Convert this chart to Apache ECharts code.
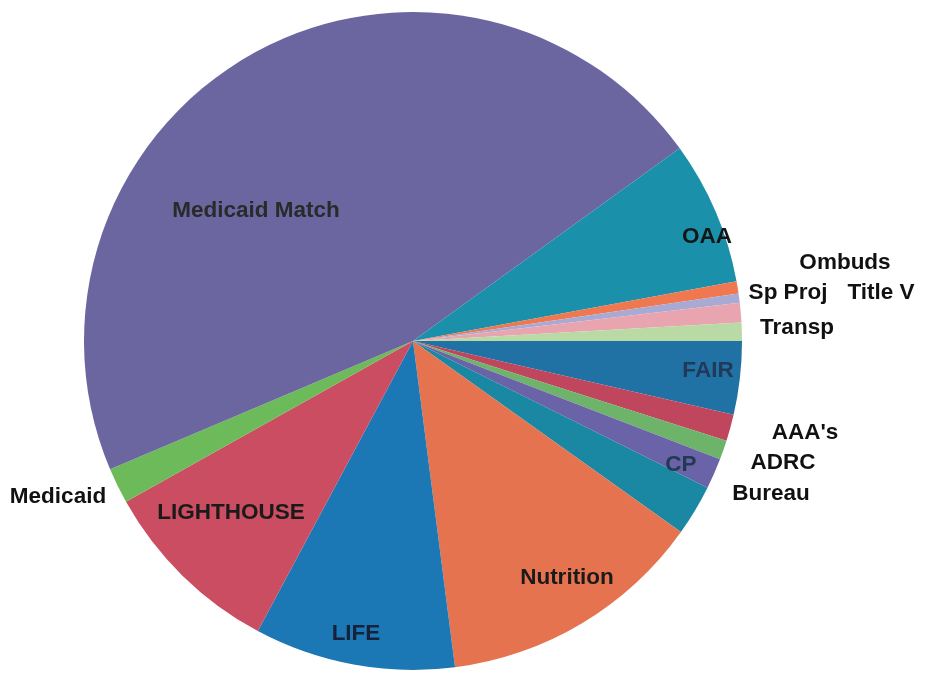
<!DOCTYPE html>
<html>
<head>
<meta charset="utf-8">
<script src="https://cdn.jsdelivr.net/npm/echarts@6/dist/echarts.min.js"></script>
<style>
  html, body { margin: 0; padding: 0; background: #fff; }
  #chart { width: 931px; height: 673px; }
</style>
</head>
<body>
<div id="chart"></div>
<script>
// slices, clockwise from 3 o'clock (percent of total)
const categories = ['FAIR', "AAA's", 'ADRC', 'Bureau', 'CP', 'Nutrition', 'LIFE', 'LIGHTHOUSE',
    'Medicaid', 'Medicaid Match', 'OAA', 'Sp Proj', 'Ombuds', 'Title V', 'Transp'];
const shares = [3.6, 1.3, 0.95, 1.5, 2.5, 13.1, 9.85, 9.05, 1.75, 46.4, 7.05, 0.6, 0.45, 0.95, 0.9];

const colors = ['#2072a5', '#c0465e', '#6db36a', '#6a63a8', '#1a88a2', '#e6734f', '#1c78b4', '#cb4d62',
    '#6dba5a', '#6b66a0', '#1b90ab', '#f07850', '#a9aad4', '#e8a5b0', '#b9d9a5'];

// where the label text sits (placed by hand in the original chart)
const labelPos = [
    [708, 371], [805, 433], [783, 463], [771, 494], [681, 465], [567, 578], [356, 634], [231, 513],
    [58, 497], [256, 211], [707, 237], [788, 293], [845, 263], [881, 293], [797, 328]
];
const labelColors = ['#22395a', '#111', '#111', '#111', '#1f3a52', '#1a1a1a', '#16223c', '#1a1a1a',
    '#111', '#2a2a2a', '#151515', '#111', '#111', '#111', '#111'];

document.addEventListener('DOMContentLoaded', function () {
    const myChart = echarts.init(document.getElementById('chart'));

    const seriesData = categories.map((name, i) => ({
        name: name,
        value: shares[i],
        itemStyle: { color: colors[i] },
        label: { color: labelColors[i] }
    }));

    const option = {
        animation: false,
        series: [{
            type: 'pie',
            center: [413, 341],
            radius: 329,
            startAngle: 0,
            clockwise: true,
            avoidLabelOverlap: false,
            minAngle: 0,
            itemStyle: { borderWidth: 0 },
            label: {
                show: true,
                position: 'inside',
                formatter: '{b}',
                fontFamily: 'Liberation Sans, Arial, sans-serif',
                fontWeight: 'bold',
                fontSize: 22.5
            },
            labelLine: { show: false },
            labelLayout: function (params) {
                const p = labelPos[params.dataIndex];
                return { x: p[0], y: p[1], align: 'center', verticalAlign: 'middle' };
            },
            data: seriesData
        }]
    };

    myChart.setOption(option);
    window.addEventListener('resize', () => myChart.resize());
});
</script>
</body>
</html>
